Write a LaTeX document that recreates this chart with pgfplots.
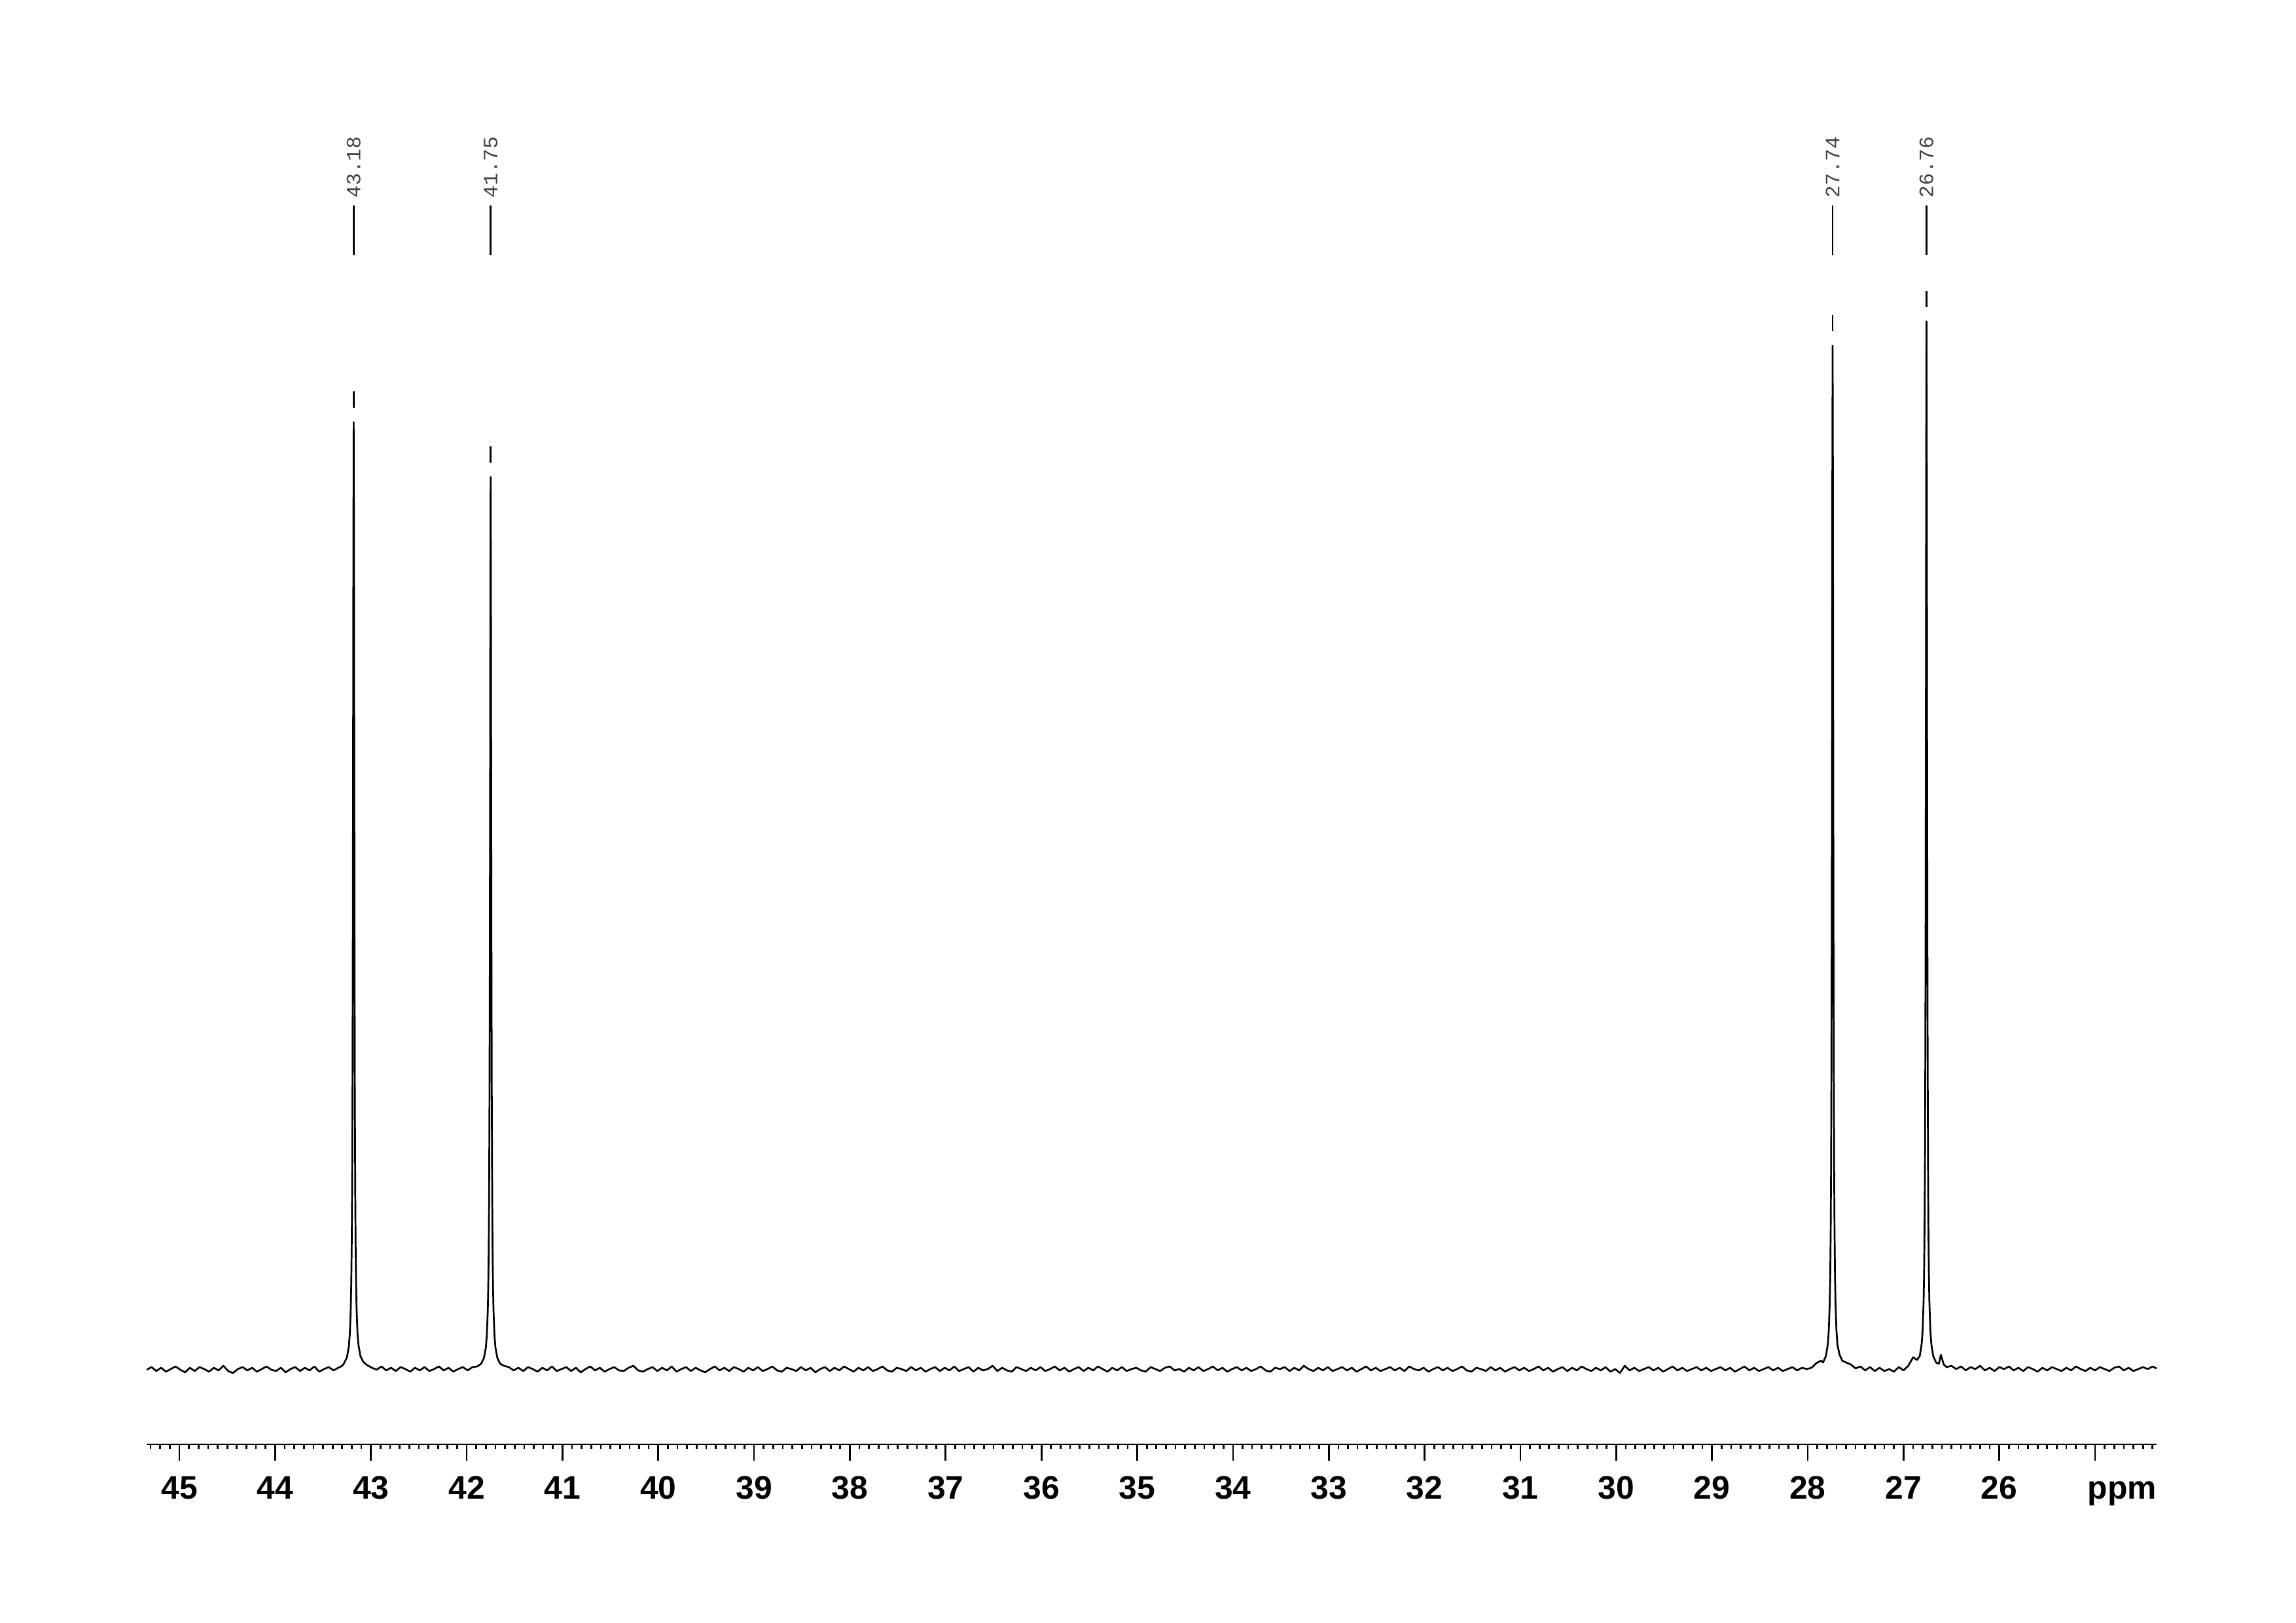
\documentclass[border=0pt]{standalone}
\usepackage{pgfplots}
\pgfplotsset{compat=1.18}
\usepackage{fontspec}
\setmainfont{Liberation Sans}
\newfontfamily\peakfont{Liberation Mono}
\begin{document}
\begin{tikzpicture}
\path[use as bounding box] (0,0) rectangle (297mm,209.88mm);
\begin{axis}[
  at={(18.965mm,23.03mm)}, anchor=south west,
  scale only axis, width=260.0mm, height=186.85mm,
  x dir=reverse, xmin=24.358, xmax=45.342, ymin=0, ymax=2207,
  axis x line=bottom, axis y line=none,
  x axis line style={-, line width=0.65pt, black},
  xtick={25,26,...,45},
  xticklabels={\hspace*{7mm}ppm,26,27,28,29,30,31,32,33,34,35,36,37,38,39,40,41,42,43,44,45},
  minor xtick={24.4,24.5,...,45.3},
  tick align=outside,
  major tick length=2.1mm, minor tick length=0.6mm,
  every tick/.style={black, line width=0.65pt},
  xticklabel style={font=\bfseries\fontsize{12}{14}\selectfont, anchor=north, inner sep=0pt, text height=8.6pt, text depth=0pt, yshift=-1.86mm},
  clip=false,
]
\addplot[black, line width=0.65pt, line join=round, mark=none] coordinates {
(45.34,114)(45.29,118)(45.24,112)(45.19,117)(45.14,111)(45.09,115)(45.04,119)(44.99,114)(44.94,110)(44.89,117)
(44.84,112)(44.79,118)(44.74,115)(44.69,111)(44.64,117)(44.59,113)(44.54,120)(44.49,112)(44.44,109)(44.39,115)
(44.34,118)(44.29,113)(44.24,117)(44.19,111)(44.14,115)(44.09,119)(44.04,114)(43.99,112)(43.94,117)(43.89,110)
(43.84,115)(43.79,118)(43.74,112)(43.69,117)(43.64,113)(43.59,119)(43.54,111)(43.49,115)(43.44,118)(43.39,113)
(43.34,117)(43.30,120)
(43.28,124)(43.25,133)(43.23,150)(43.22,169)(43.21,209)(43.205,247)(43.20,310)(43.196,399)(43.192,552)(43.189,744)
(43.186,1032)(43.183,1380)(43.18,1562)(43.177,1380)(43.174,1032)(43.171,744)(43.168,552)(43.164,399)(43.16,310)
(43.155,247)(43.15,209)(43.14,169)(43.13,152)(43.11,135)(43.08,126)
(43.04,121)(42.99,117)(42.94,114)(42.89,119)(42.84,113)(42.79,117)(42.74,112)(42.69,118)(42.64,115)(42.59,111)
(42.54,117)(42.49,113)(42.44,118)(42.39,112)(42.34,115)(42.29,119)(42.24,113)(42.19,117)(42.14,111)(42.09,115)
(42.04,118)(41.99,113)(41.94,118)(41.89,119)
(41.85,123)(41.82,132)(41.80,148)(41.79,166)(41.78,204)(41.775,239)(41.77,299)(41.766,382)(41.762,527)(41.759,708)
(41.756,979)(41.753,1306)(41.75,1478)(41.747,1306)(41.744,979)(41.741,708)(41.738,527)(41.734,382)(41.73,299)
(41.725,239)(41.72,204)(41.71,166)(41.70,148)(41.68,132)(41.65,123)
(41.61,120)(41.56,118)(41.51,113)(41.46,117)(41.41,112)(41.36,118)(41.31,115)(41.26,111)(41.21,117)(41.16,113)(41.11,119)(41.06,112)(41.01,115)
(40.96,118)(40.91,112)(40.86,117)(40.81,110)(40.76,115)(40.71,119)(40.66,113)(40.61,117)(40.56,111)(40.51,115)(40.46,118)(40.41,113)(40.36,112)(40.31,117)(40.26,120)(40.21,113)(40.16,111)(40.11,115)(40.06,118)(40.01,112)
(39.96,117)(39.91,113)(39.86,119)(39.81,111)(39.76,115)(39.71,118)(39.66,112)(39.61,117)(39.56,113)(39.51,110)(39.46,115)(39.41,119)(39.36,113)(39.31,117)(39.26,112)(39.21,118)(39.16,115)(39.11,111)(39.06,117)(39.01,113)
(38.96,118)(38.91,112)(38.86,115)(38.81,119)(38.76,113)(38.71,111)(38.66,117)(38.61,115)(38.56,112)(38.51,118)(38.46,113)(38.41,117)(38.36,110)(38.31,115)(38.26,118)(38.21,112)(38.16,117)(38.11,113)(38.06,119)(38.01,115)
(37.96,111)(37.91,117)(37.86,113)(37.81,118)(37.76,112)(37.71,115)(37.66,119)(37.61,113)(37.56,111)(37.51,117)(37.46,115)(37.41,112)(37.36,118)(37.31,113)(37.26,117)(37.21,111)(37.16,115)(37.11,118)(37.06,112)(37.01,117)
(36.96,113)(36.91,119)(36.86,112)(36.81,115)(36.76,118)(36.71,111)(36.66,117)(36.61,113)(36.56,115)(36.51,120)(36.46,112)(36.41,117)(36.36,113)(36.31,111)(36.26,118)(36.21,115)(36.16,112)(36.11,117)(36.06,113)(36.01,118)
(35.96,112)(35.91,115)(35.86,119)(35.81,113)(35.76,117)(35.71,111)(35.66,115)(35.61,118)(35.56,112)(35.51,117)(35.46,113)(35.41,119)(35.36,115)(35.31,111)(35.26,117)(35.21,113)(35.16,118)(35.11,112)(35.06,115)(35.01,117)
(34.96,113)(34.91,111)(34.86,118)(34.81,115)(34.76,112)(34.71,117)(34.66,119)(34.61,113)(34.56,115)(34.51,111)(34.46,117)(34.41,113)(34.36,118)(34.31,112)(34.26,115)(34.21,119)(34.16,113)(34.11,117)(34.06,111)(34.01,115)
(33.96,118)(33.91,113)(33.86,117)(33.81,112)(33.76,115)(33.71,119)(33.66,113)(33.61,111)(33.56,117)(33.51,115)(33.46,118)(33.41,112)(33.36,117)(33.31,113)(33.26,120)(33.21,115)(33.16,112)(33.11,117)(33.06,113)(33.01,118)
(32.96,112)(32.91,115)(32.86,118)(32.81,113)(32.76,117)(32.71,111)(32.66,115)(32.61,119)(32.56,113)(32.51,117)(32.46,112)(32.41,115)(32.36,118)(32.31,113)(32.26,117)(32.21,112)(32.16,119)(32.11,115)(32.06,113)(32.01,117)
(31.96,111)(31.91,115)(31.86,118)(31.81,113)(31.76,117)(31.71,112)(31.66,115)(31.61,119)(31.56,113)(31.51,111)(31.46,117)(31.41,115)(31.36,112)(31.31,118)(31.26,113)(31.21,117)(31.16,111)(31.11,115)(31.06,118)(31.01,113)
(30.96,117)(30.91,112)(30.86,115)(30.81,119)(30.76,113)(30.71,117)(30.66,111)(30.61,115)(30.56,118)(30.51,112)(30.46,117)(30.41,113)(30.36,119)(30.31,115)(30.26,112)(30.21,117)(30.16,113)(30.11,118)(30.06,111)(30.01,115)
(29.96,109)(29.91,120)(29.86,113)(29.81,117)(29.76,112)(29.71,115)(29.66,118)(29.61,113)(29.56,117)(29.51,111)(29.46,115)(29.41,119)(29.36,113)(29.31,117)(29.26,112)(29.21,115)(29.16,118)(29.11,113)(29.06,117)(29.01,112)
(28.96,115)(28.91,118)(28.86,113)(28.81,117)(28.76,111)(28.71,115)(28.66,119)(28.61,113)(28.56,117)(28.51,112)(28.46,115)(28.41,118)(28.36,113)(28.31,117)(28.26,112)(28.21,115)(28.16,118)(28.11,113)(28.06,117)(28.01,115)
(27.96,117)(27.91,124)(27.86,128)
(27.84,125)(27.81,135)(27.79,153)(27.78,174)(27.77,217)(27.765,257)(27.76,326)(27.756,422)(27.752,587)(27.749,795)
(27.746,1107)(27.743,1482)(27.74,1679)(27.737,1482)(27.734,1107)(27.731,795)(27.728,587)(27.724,422)(27.72,326)
(27.715,257)(27.71,217)(27.70,174)(27.69,153)(27.67,138)(27.64,128)
(27.60,125)(27.55,122)(27.50,116)(27.45,119)(27.40,113)(27.35,118)(27.30,112)(27.25,117)(27.20,112)(27.15,115)
(27.10,111)(27.05,118)(27.00,113)(26.95,120)(26.90,133)
(26.86,129)(26.83,135)(26.81,154)(26.80,175)(26.79,219)(26.785,261)(26.78,331)(26.776,429)(26.772,599)(26.769,811)
(26.766,1130)(26.763,1514)(26.76,1716)(26.757,1514)(26.754,1130)(26.751,811)(26.748,599)(26.744,429)(26.74,331)
(26.735,261)(26.73,219)(26.72,175)(26.71,154)(26.69,135)(26.66,125)
(26.63,123)(26.61,137)(26.58,122)(26.55,118)(26.50,120)(26.45,115)(26.40,119)(26.35,113)(26.30,118)(26.25,115)
(26.20,120)(26.15,113)(26.10,117)(26.05,112)(26.00,118)(25.95,115)(25.90,119)(25.85,113)(25.80,117)(25.75,112)
(25.70,118)(25.65,115)(25.60,111)(25.55,117)(25.50,113)(25.45,118)(25.40,115)(25.35,112)(25.30,117)(25.25,113)
(25.20,119)(25.15,115)(25.10,112)(25.05,117)(25.00,113)(24.95,118)(24.90,115)(24.85,112)(24.80,117)(24.75,119)
(24.70,113)(24.65,117)(24.60,112)(24.55,115)(24.50,118)(24.45,115)(24.40,119)(24.358,116)
};
% peak markers above each peak
\addplot[black, line width=0.65pt] coordinates {(43.18,1584)(43.18,1609)};
\addplot[black, line width=0.65pt] coordinates {(41.75,1500)(41.75,1525)};
\addplot[black, line width=0.65pt] coordinates {(27.74,1701)(27.74,1726)};
\addplot[black, line width=0.65pt] coordinates {(26.76,1738)(26.76,1762)};
% label stems
\addplot[black, line width=0.65pt] coordinates {(43.18,1817)(43.18,1893)};
\addplot[black, line width=0.65pt] coordinates {(41.75,1817)(41.75,1893)};
\addplot[black, line width=0.65pt] coordinates {(27.74,1817)(27.74,1893)};
\addplot[black, line width=0.65pt] coordinates {(26.76,1817)(26.76,1893)};
\node[rotate=90, anchor=west, inner sep=0pt, text=black!75, font=\peakfont\fontsize{7.5}{9}\selectfont] at (axis cs:43.18,1904) {43.18};
\node[rotate=90, anchor=west, inner sep=0pt, text=black!75, font=\peakfont\fontsize{7.5}{9}\selectfont] at (axis cs:41.75,1904) {41.75};
\node[rotate=90, anchor=west, inner sep=0pt, text=black!75, font=\peakfont\fontsize{7.5}{9}\selectfont] at (axis cs:27.74,1904) {27.74};
\node[rotate=90, anchor=west, inner sep=0pt, text=black!75, font=\peakfont\fontsize{7.5}{9}\selectfont] at (axis cs:26.76,1904) {26.76};
\end{axis}
\end{tikzpicture}
\end{document}
